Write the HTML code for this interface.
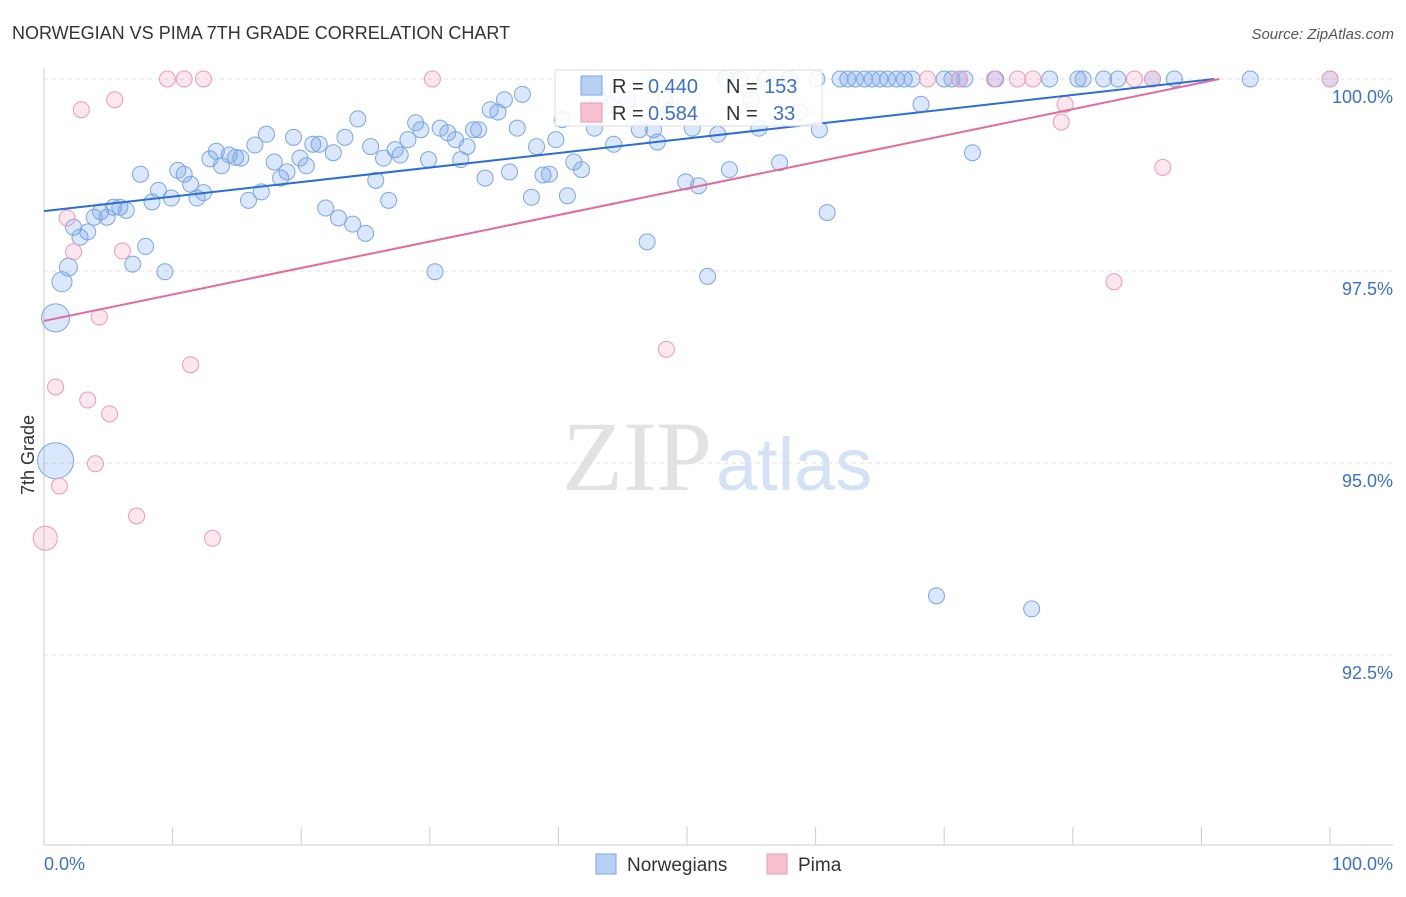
<!DOCTYPE html>
<html><head><meta charset="utf-8"><style>
body{margin:0;background:#fff;font-family:"Liberation Sans",sans-serif;}
</style></head><body>
<svg id="chart" width="1406" height="892" xmlns="http://www.w3.org/2000/svg">
<text x="12" y="39" font-size="18" fill="#333">NORWEGIAN VS PIMA 7TH GRADE CORRELATION CHART</text>
<text x="1394" y="39" font-size="15" fill="#555" text-anchor="end" font-style="italic">Source: ZipAtlas.com</text>
<text x="712" y="490" font-size="100" fill="#e2e2e2" text-anchor="end" font-family="Liberation Serif">ZIP</text>
<text x="716" y="490" font-size="74" fill="#d4e2f5">atlas</text>
<text x="34" y="455" font-size="18" fill="#333" transform="rotate(-90 34 455)" text-anchor="middle">7th Grade</text>
<g id="grid"></g><g id="marks"></g>
<g>
<rect x="555" y="70" width="267" height="56" fill="#fff" fill-opacity="0.85" stroke="#ddd"/>
<rect x="581" y="76" width="21" height="19" fill="#b8d0f4" stroke="#7aa6e8"/>
<rect x="581" y="103" width="21" height="19" fill="#f6c0d0" stroke="#ee9ab5"/>
<text x="612" y="93" font-size="20" fill="#333">R =</text>
<text x="648" y="93" font-size="20" fill="#3b6fd4">0.440</text>
<text x="726" y="93" font-size="20" fill="#333">N =</text>
<text x="764" y="93" font-size="20" fill="#3b6fd4">153</text>
<text x="612" y="120" font-size="20" fill="#333">R =</text>
<text x="648" y="120" font-size="20" fill="#3b6fd4">0.584</text>
<text x="726" y="120" font-size="20" fill="#333">N =</text>
<text x="773" y="120" font-size="20" fill="#3b6fd4">33</text>
</g>
<g>
<rect x="596" y="854" width="20" height="20" fill="#b8d0f4" stroke="#7aa6e8"/>
<text x="627" y="871" font-size="19" fill="#333">Norwegians</text>
<rect x="767" y="854" width="20" height="20" fill="#f6c0d0" stroke="#ee9ab5"/>
<text x="798" y="871" font-size="19" fill="#333">Pima</text>
</g>
</svg>
<script>
const yTicks=[100,97.5,95,92.5];
const yTickLabels=["100.0%","97.5%","95.0%","92.5%"];
const xTicks=[0,10,20,30,40,50,60,70,80,90,100];
const blueX=[0.9,0.9,1.4,1.9,2.3,2.8,3.4,3.9,4.4,4.9,5.4,5.9,6.4,6.9,7.5,7.9,8.4,8.9,9.4,9.9,10.4,10.9,11.4,11.9,12.4,12.9,13.4,13.8,14.4,14.9,15.3,15.9,16.4,16.9,17.3,17.9,18.4,18.9,19.4,19.9,20.4,20.9,21.4,21.9,22.5,22.9,23.4,24.0,24.4,25.0,25.4,25.8,26.4,26.8,27.3,27.7,28.3,28.9,29.3,29.9,30.4,30.8,31.4,32.0,32.4,32.9,33.4,33.8,34.3,34.7,35.3,35.8,36.2,36.8,37.2,37.9,38.3,38.8,39.3,39.8,40.3,40.7,41.2,41.8,42.3,42.8,43.2,44.0,44.3,45.4,46.3,46.9,47.4,47.7,48.3,48.8,49.9,50.4,50.9,51.6,52.4,53.0,53.3,54.1,55.0,55.6,56.1,57.2,58.0,58.8,60.3,60.9,60.1,61.9,62.5,63.1,63.8,64.4,65.0,65.6,66.3,66.9,67.5,68.2,69.4,70.0,70.6,71.2,71.6,72.2,74.0,76.8,78.2,80.4,80.8,82.4,83.5,86.2,87.9,93.8,100];
const blueY=[96.89,95.03,97.36,97.55,98.07,97.94,98.01,98.20,98.27,98.20,98.33,98.33,98.29,97.59,98.76,97.82,98.40,98.55,97.49,98.45,98.81,98.76,98.63,98.45,98.52,98.96,99.06,98.87,99.01,98.98,98.97,98.42,99.14,98.53,99.28,98.92,98.71,98.79,99.24,98.97,98.87,99.15,99.15,98.32,99.04,98.19,99.24,98.11,99.48,97.99,99.12,98.68,98.97,98.42,99.08,99.01,99.21,99.43,99.34,98.95,97.49,99.36,99.30,99.21,98.95,99.12,99.34,99.34,98.71,99.60,99.57,99.73,98.79,99.36,99.80,98.46,99.12,98.75,98.76,99.21,99.47,98.48,98.92,98.82,99.60,99.36,99.73,99.66,99.15,99.73,99.34,97.88,99.34,99.18,99.73,99.60,98.66,99.36,98.61,97.43,99.28,100,98.82,100,99.73,99.36,100,98.91,100,99.57,99.34,98.26,100,100,100,100,100,100,100,100,100,100,100,99.67,93.27,100,100,100,100,99.04,100,93.10,100,100,100,100,100,100,100,100,100];
const blueR=[14,18,10,9];
const pinkX=[0.1,0.9,1.2,1.8,2.3,2.9,3.4,4.0,4.3,5.1,5.5,6.1,7.2,9.6,10.9,11.4,12.4,13.1,30.2,48.4,68.7,71.2,73.9,75.7,76.9,79.1,79.4,83.2,84.8,86.2,87.0,100];
const pinkY=[94.02,95.99,94.70,98.19,97.75,99.60,95.82,94.99,96.90,95.64,99.73,97.76,94.31,100,100,96.28,100,94.02,100,96.48,100,100,100,100,100,99.44,99.67,97.36,100,100,98.85,100];
const blueLine=[[0,98.28],[91,100]];
const pinkLine=[[0,96.85],[91.4,100]];
const X=v=>44+v*12.86, Y=v=>79+(100-v)*76.8;
const NS="http://www.w3.org/2000/svg";
const grid=document.getElementById('grid'), marks=document.getElementById('marks');
function mk(tag,attrs,parent){const e=document.createElementNS(NS,tag);for(const k in attrs)e.setAttribute(k,attrs[k]);parent.appendChild(e);return e;}
yTicks.forEach((t,i)=>{
 const l=mk('line',{x1:44,x2:1393,y1:Y(t),y2:Y(t),stroke:'#e2e2e2','stroke-dasharray':'4,4'},grid);
 
 
 const tx=mk('text',{x:1393,y:Y(t)+24,'font-size':18,fill:'#3b6fd4','text-anchor':'end'},grid);
 tx.textContent=yTickLabels[i];
 
 
});
const ax=mk('line',{x1:44,x2:1393,y1:845,y2:845,stroke:'#ccc'},grid);


const ay=mk('line',{x1:44,x2:44,y1:68,y2:845,stroke:'#ccc'},grid);


xTicks.forEach(t=>{const l=mk('line',{x1:X(t),x2:X(t),y1:827,y2:845,stroke:'#ccc'},grid);
 
 });
[["0.0%",44,'start'],["100.0%",1393,'end']].forEach(a=>{const t=mk('text',{x:a[1],y:870,'font-size':18,fill:'#3b6fd4','text-anchor':a[2]},grid);t.textContent=a[0];
 
 });
blueX.forEach((x,i)=>{const c=mk('circle',{cx:X(x),cy:Y(blueY[i]),r:blueR[i]||8,fill:'rgba(110,160,235,0.25)',stroke:'#7aa6e8','stroke-width':1},marks);
 
 });
pinkX.forEach((x,i)=>{const c=mk('circle',{cx:X(x),cy:Y(pinkY[i]),r:i==0?12:8,fill:'rgba(245,160,190,0.25)',stroke:'#ee9ab5','stroke-width':1},marks);
 
 });
const bl=mk('line',{x1:X(blueLine[0][0]),y1:Y(blueLine[0][1]),x2:X(blueLine[1][0]),y2:Y(blueLine[1][1]),stroke:'#2b6ed6','stroke-width':2},marks);


const pl=mk('line',{x1:X(pinkLine[0][0]),y1:Y(pinkLine[0][1]),x2:X(pinkLine[1][0]),y2:Y(pinkLine[1][1]),stroke:'#e46a98','stroke-width':2},marks);


</script>
</body></html>
